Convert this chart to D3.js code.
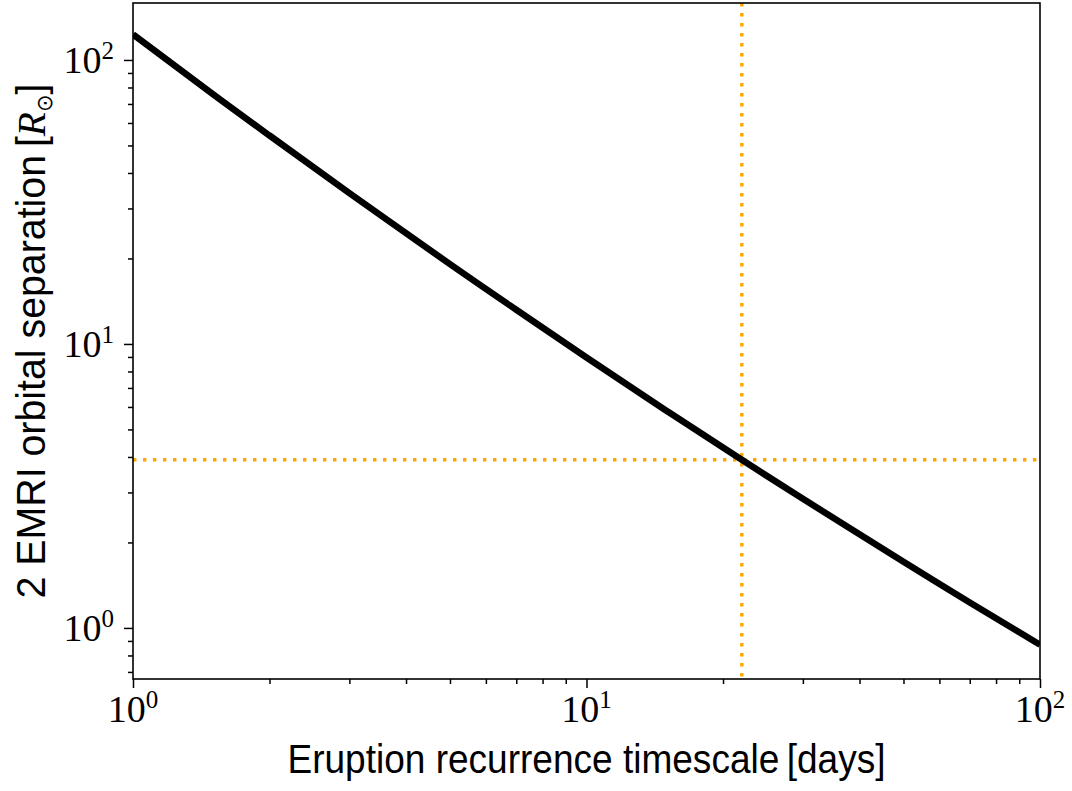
<!DOCTYPE html>
<html>
<head>
<meta charset="utf-8">
<script src="https://cdn.jsdelivr.net/npm/d3@7"></script>
<style>
  html, body { margin: 0; padding: 0; background: #fff; }
  svg { display: block; }
</style>
</head>
<body>
<svg id="chart" width="1072" height="791"></svg>
<script>
// ---- data ----
const timescale = [1, 1.5, 2, 3, 5, 7, 10, 15, 22, 30, 50, 70, 100];           // days
const separation = [123, 75.8, 54.2, 34.0, 19.1, 13.2, 8.96, 5.82, 3.91, 2.85, 1.71, 1.23, 0.873]; // R_sun
const refTimescale = [22];
const refSeparation = [3.91];
const xMajorTicks = [1, 10, 100];
const xMajorExp = ["0", "1", "2"];
const xMinorTicks = [2, 3, 4, 5, 6, 7, 8, 9, 20, 30, 40, 50, 60, 70, 80, 90];
const yMajorTicks = [1, 10, 100];
const yMajorExp = ["0", "1", "2"];
const yMinorTicks = [0.7, 0.8, 0.9, 2, 3, 4, 5, 6, 7, 8, 9, 20, 30, 40, 50, 60, 70, 80, 90];
const xDomain = [1, 100];
const yDomain = [0.661, 158.7];

// ---- layout ----
const W = 1072, H = 791;
const m = { left: 133, right: 32, top: 3, bottom: 112 };
const pw = W - m.left - m.right, ph = H - m.top - m.bottom;

const svg = d3.select("#chart");
const g = svg.append("g").attr("transform", `translate(${m.left},${m.top})`);

const x = d3.scaleLog().domain(xDomain).range([0, pw]);
const y = d3.scaleLog().domain(yDomain).range([ph, 0]);

svg.append("defs").append("clipPath").attr("id", "clip")
  .append("rect").attr("width", pw).attr("height", ph);

const plot = g.append("g").attr("clip-path", "url(#clip)");

// reference dotted lines
const orange = "#FFA500";
plot.selectAll("line.vref").data(refTimescale).join("line")
  .attr("x1", d => x(d)).attr("x2", d => x(d))
  .attr("y1", 0).attr("y2", ph)
  .attr("stroke", orange).attr("stroke-width", 3.4)
  .attr("stroke-dasharray", "3.4 6.6");
plot.selectAll("line.href").data(refSeparation).join("line")
  .attr("x1", 0).attr("x2", pw)
  .attr("y1", d => y(d)).attr("y2", d => y(d))
  .attr("stroke", orange).attr("stroke-width", 3.4)
  .attr("stroke-dasharray", "3.4 6.6");

// curve
const pts = timescale.map((t, i) => [t, separation[i]]);
const line = d3.line().x(d => x(d[0])).y(d => y(d[1])).curve(d3.curveNatural);
plot.append("path").datum(pts)
  .attr("d", line)
  .attr("fill", "none").attr("stroke", "#000").attr("stroke-width", 6.5);

// axes ticks
const xAxis = d3.axisBottom(x).tickValues(xMajorTicks).tickFormat("").tickSize(9).tickSizeOuter(0);
const xAxisMinor = d3.axisBottom(x).tickValues(xMinorTicks).tickFormat("").tickSize(5).tickSizeOuter(0);
const yAxis = d3.axisLeft(y).tickValues(yMajorTicks).tickFormat("").tickSize(9).tickSizeOuter(0);
const yAxisMinor = d3.axisLeft(y).tickValues(yMinorTicks).tickFormat("").tickSize(5).tickSizeOuter(0);

function styleAxis(sel) {
  sel.select(".domain").remove();
  sel.selectAll("line").attr("stroke", "#000").attr("stroke-width", 1.5);
}
g.append("g").attr("transform", `translate(0,${ph})`).call(xAxis).call(styleAxis);
g.append("g").attr("transform", `translate(0,${ph})`).call(xAxisMinor).call(styleAxis);
g.append("g").call(yAxis).call(styleAxis);
g.append("g").call(yAxisMinor).call(styleAxis);

// frame
g.append("rect").attr("width", pw).attr("height", ph)
  .attr("fill", "none").attr("stroke", "#000").attr("stroke-width", 1.6);

// tick labels (10^n)
const serif = "'Liberation Serif', 'DejaVu Serif', serif";
xMajorTicks.forEach((v, i) => {
  const t = g.append("text")
    .attr("x", x(v)).attr("y", ph + 43)
    .attr("text-anchor", "middle")
    .attr("font-family", serif).attr("font-size", 38).attr("fill", "#000");
  t.append("tspan").text("10");
  t.append("tspan").attr("dy", -14).attr("font-size", 25).text(xMajorExp[i]);
});
yMajorTicks.forEach((v, i) => {
  const t = g.append("text")
    .attr("x", -19).attr("y", y(v) + 13)
    .attr("text-anchor", "end")
    .attr("font-family", serif).attr("font-size", 38).attr("fill", "#000");
  t.append("tspan").text("10");
  t.append("tspan").attr("dy", -14).attr("font-size", 25).text(yMajorExp[i]);
});

// axis labels
const sans = "'Liberation Sans', 'DejaVu Sans', sans-serif";
svg.append("text")
  .attr("x", m.left + pw / 2).attr("y", 773)
  .attr("text-anchor", "middle")
  .attr("font-family", sans).attr("font-size", 41).attr("fill", "#000")
  .attr("textLength", 598).attr("lengthAdjust", "spacingAndGlyphs")
  .text("Eruption recurrence timescale\u2009[days]");

const yl = svg.append("text")
  .attr("transform", `translate(45,${m.top + ph / 2}) rotate(-90)`)
  .attr("text-anchor", "middle")
  .attr("font-family", sans).attr("font-size", 41).attr("fill", "#000")
  .attr("textLength", 515).attr("lengthAdjust", "spacingAndGlyphs");
yl.append("tspan").text("2 EMRI orbital separation\u2009[");
yl.append("tspan").attr("font-family", serif).attr("font-style", "italic").text("R");
yl.append("tspan").attr("font-family", "'DejaVu Sans', sans-serif").attr("font-size", 22).attr("dy", 7).text("\u2299");
yl.append("tspan").attr("dy", -7).text("]");
</script>
</body>
</html>
